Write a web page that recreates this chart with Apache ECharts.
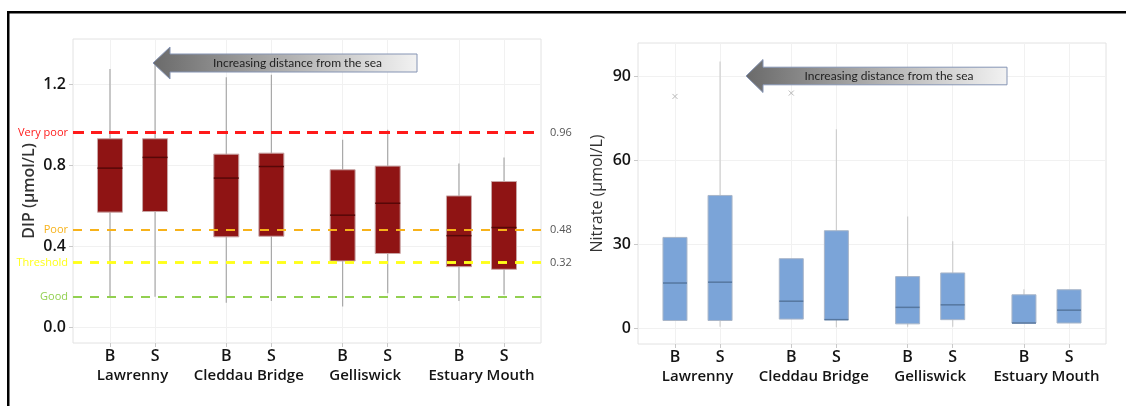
<!DOCTYPE html>
<html>
<head>
<meta charset="utf-8">
<script src="https://cdn.jsdelivr.net/npm/echarts@6/dist/echarts.min.js"></script>
<style>
  html, body { margin: 0; padding: 0; background: #ffffff; }
  #chart { width: 1126px; height: 406px; }
</style>
</head>
<body>
<div id="chart"></div>
<script>
// ---- data -------------------------------------------------------------
const sites = ['Lawrenny', 'Cleddau Bridge', 'Gelliswick', 'Estuary Mouth'];
const layers = ['B', 'S'];

// five-number summaries per site: [min, Q1, median, Q3, max]
const dipB = [
  [0.151, 0.568, 0.785, 0.930, 1.274],
  [0.121, 0.446, 0.736, 0.854, 1.233],
  [0.102, 0.327, 0.553, 0.777, 0.925],
  [0.130, 0.299, 0.452, 0.648, 0.808]
];
const dipS = [
  [0.151, 0.571, 0.838, 0.930, 1.300],
  [0.130, 0.449, 0.793, 0.859, 1.246],
  [0.168, 0.364, 0.612, 0.795, 0.974],
  [0.160, 0.286, 0.492, 0.719, 0.838]
];
const nitrateB = [
  [2.7, 2.7, 16.1, 32.4, 32.4],
  [3.2, 3.2, 9.6, 24.8, 24.8],
  [0.5, 1.5, 7.4, 18.4, 39.9],
  [1.8, 1.8, 1.8, 11.9, 13.9]
];
const nitrateS = [
  [0.5, 2.7, 16.4, 47.4, 95.3],
  [0.3, 3.0, 3.0, 34.8, 71.1],
  [0.5, 3.0, 8.3, 19.7, 31.0],
  [1.8, 1.8, 6.4, 13.7, 13.7]
];
// [site index, layer, value]
const nitrateOutliers = [[0, 'B', 82.8], [1, 'B', 84.0]];

// DIP status classes
const statusNames = ['Very poor', 'Poor', 'Threshold', 'Good'];
const statusValues = [0.96, 0.48, 0.32, 0.15];
const statusValueText = ['0.96', '0.48', '0.32', ''];

const dipTicks = [0, 0.4, 0.8, 1.2];
const nitrateTicks = [0, 30, 60, 90];
const arrowText = 'Increasing distance from the sea';

// ---- layout helpers ---------------------------------------------------
const GROUP_STEP = 2.58;          // x distance between sites
const X_MIN = -0.82, X_MAX = 9.56;
const pos = (g, s) => +(g * GROUP_STEP + s).toFixed(2);

const tickPos = [], tickText = {};
sites.forEach((_, g) => layers.forEach((l, s) => {
  const p = pos(g, s); tickPos.push(p); tickText[p.toFixed(2)] = l;
}));
const sitePos = sites.map((_, g) => pos(g, 0.5));
const siteText = {};
sitePos.forEach((p, g) => { siteText[p.toFixed(2)] = sites[g]; });

function boxRows(bArr, sArr) {
  const rows = [];
  sites.forEach((_, g) => {
    rows.push([pos(g, 0)].concat(bArr[g]));
    rows.push([pos(g, 1)].concat(sArr[g]));
  });
  return rows;
}

const FONT = '"Open Sans", "DejaVu Sans", sans-serif';
const TEXT = '#141414';

function boxRenderer(st) {
  return function (params, api) {
    const x = api.value(0);
    const pMin = api.coord([x, api.value(1)]);
    const pQ1 = api.coord([x, api.value(2)]);
    const pMed = api.coord([x, api.value(3)]);
    const pQ3 = api.coord([x, api.value(4)]);
    const pMax = api.coord([x, api.value(5)]);
    const w = st.width;
    return {
      type: 'group',
      children: [
        { type: 'line', shape: { x1: pMin[0], y1: pMin[1], x2: pMax[0], y2: pMax[1] },
          style: { stroke: st.whisker, lineWidth: 1.2 } },
        { type: 'rect', shape: { x: pQ3[0] - w / 2, y: pQ3[1], width: w, height: Math.max(pQ1[1] - pQ3[1], 1) },
          style: { fill: st.fill, stroke: st.edge, lineWidth: 1 } },
        { type: 'line', shape: { x1: pMed[0] - w / 2, y1: pMed[1], x2: pMed[0] + w / 2, y2: pMed[1] },
          style: { stroke: st.median, lineWidth: 1.5 } }
      ]
    };
  };
}

function outlierRenderer(params, api) {
  const p = api.coord([api.value(0), api.value(1)]);
  const r = 2.5;
  return {
    type: 'group',
    children: [
      { type: 'line', shape: { x1: p[0] - r, y1: p[1] - r, x2: p[0] + r, y2: p[1] + r }, style: { stroke: '#b8b8b8', lineWidth: 1 } },
      { type: 'line', shape: { x1: p[0] - r, y1: p[1] + r, x2: p[0] + r, y2: p[1] - r }, style: { stroke: '#b8b8b8', lineWidth: 1 } }
    ]
  };
}

function xAxesFor(gridIndex) {
  return [
    {
      type: 'value', gridIndex, min: X_MIN, max: X_MAX, position: 'bottom',
      axisLine: { show: false, onZero: false },
      axisTick: { show: true, customValues: tickPos, length: 4, lineStyle: { color: '#c8c8c8' } },
      splitLine: { show: true, lineStyle: { color: '#f1f1f1', width: 1 } },
      axisLabel: {
        customValues: tickPos, margin: 5, fontFamily: FONT, fontSize: 16, fontWeight: 600, color: TEXT,
        formatter: v => tickText[(+v).toFixed(2)] || ''
      }
    },
    {
      type: 'value', gridIndex, min: X_MIN, max: X_MAX, position: 'bottom',
      axisLine: { show: false, onZero: false }, axisTick: { show: false }, splitLine: { show: false },
      axisLabel: {
        customValues: sitePos, margin: 25, fontFamily: FONT, fontSize: 15, fontWeight: 600, color: TEXT,
        formatter: v => siteText[(+v).toFixed(2)] || ''
      }
    }
  ];
}

function yAxisFor(gridIndex, min, max, ticks, name, nameGap, weight, digits) {
  return {
    type: 'value', gridIndex, min, max, position: 'left',
    name, nameLocation: 'middle', nameGap,
    nameTextStyle: { fontFamily: FONT, fontSize: 16, color: '#333333', fontWeight: weight },
    axisLine: { show: false, onZero: false },
    axisTick: { show: true, customValues: ticks, length: 4, lineStyle: { color: '#c8c8c8' } },
    splitLine: { show: true, lineStyle: { color: '#f1f1f1', width: 1 } },
    axisLabel: {
      customValues: ticks, margin: 7, fontFamily: FONT, fontSize: 16, fontWeight: 600, color: TEXT,
      formatter: v => (+v).toFixed(digits)
    }
  };
}

// status lines: one entry carries the class name on the left, a twin entry the value on the right
const statusColors = ['#ff1a1a', '#f7b21a', '#ffff1a', '#92d050'];
const statusWidths = [3, 2, 2.5, 2];
const statusDash = [[11, 7], [9, 8], [9, 8], [9, 8]];
const markData = [];
statusNames.forEach((n, i) => {
  const lineStyle = { color: statusColors[i], width: statusWidths[i], type: statusDash[i] };
  markData.push({
    yAxis: statusValues[i], name: n, lineStyle,
    label: { show: true, position: 'start', distance: 5, formatter: n, color: statusColors[i],
             fontFamily: FONT, fontSize: 11 }
  });
  if (statusValueText[i]) {
    markData.push({
      yAxis: statusValues[i], name: statusValueText[i], lineStyle,
      label: { show: true, position: 'end', distance: 9, formatter: statusValueText[i], color: '#555555',
               fontFamily: FONT, fontSize: 11 }
    });
  }
});

function arrow(tipX, tipY, headX, headHalf, shaftHalf, endX, textSize) {
  return [
    {
      type: 'polygon', z: 100,
      shape: { points: [
        [tipX, tipY], [headX, tipY - headHalf], [headX, tipY - shaftHalf], [endX, tipY - shaftHalf],
        [endX, tipY + shaftHalf], [headX, tipY + shaftHalf], [headX, tipY + headHalf]
      ] },
      style: {
        fill: new echarts.graphic.LinearGradient(0, 0, 1, 0, [
          { offset: 0, color: '#6a6a6a' }, { offset: 0.45, color: '#a9a9a9' }, { offset: 1, color: '#f2f2f2' }
        ]),
        stroke: '#8594b4', lineWidth: 1
      }
    },
    {
      type: 'text', z: 101, x: (headX + endX) / 2 + 4, y: tipY,
      style: { text: arrowText, fill: '#1f1f1f', font: textSize + 'px Lato, "Open Sans", sans-serif',
               align: 'center', verticalAlign: 'middle' }
    }
  ];
}

const chart = echarts.init(document.getElementById('chart'), null, { renderer: 'canvas' });

chart.setOption({
  animation: false,
  backgroundColor: '#ffffff',
  grid: [
    { left: 73, top: 39, width: 468, height: 304, show: true, borderColor: '#e2e2e2', borderWidth: 1, backgroundColor: 'transparent' },
    { left: 638, top: 43, width: 468, height: 301, show: true, borderColor: '#e2e2e2', borderWidth: 1, backgroundColor: 'transparent' }
  ],
  xAxis: xAxesFor(0).concat(xAxesFor(1)),
  yAxis: [
    yAxisFor(0, -0.0775, 1.422, dipTicks, 'DIP (μmol/L)', 36, 600, 1),
    yAxisFor(1, -5.7, 101.9, nitrateTicks, 'Nitrate (μmol/L)', 33, 'normal', 0)
  ],
  series: [
    {
      type: 'custom', name: 'DIP', xAxisIndex: 0, yAxisIndex: 0,
      encode: { x: 0, y: [1, 2, 3, 4, 5] },
      data: boxRows(dipB, dipS),
      renderItem: boxRenderer({ width: 25, fill: '#8f1414', edge: '#c9a5a5', median: '#560808', whisker: '#a8a8a8' }),
      markLine: { silent: true, symbol: 'none', animation: false, data: markData }
    },
    {
      type: 'custom', name: 'Nitrate', xAxisIndex: 2, yAxisIndex: 1,
      encode: { x: 0, y: [1, 2, 3, 4, 5] },
      data: boxRows(nitrateB, nitrateS),
      renderItem: boxRenderer({ width: 24, fill: '#7ba4d8', edge: '#a9b6c9', median: '#56779f', whisker: '#cfcfcf' })
    },
    {
      type: 'custom', name: 'Nitrate outliers', xAxisIndex: 2, yAxisIndex: 1,
      encode: { x: 0, y: 1 },
      data: nitrateOutliers.map(o => [pos(o[0], layers.indexOf(o[1])), o[2]]),
      renderItem: outlierRenderer
    }
  ],
  graphic: [
    // outer frame (top and left rules)
    { type: 'rect', shape: { x: 7, y: 11, width: 1119, height: 2.5 }, style: { fill: '#000000' }, z: 200 },
    { type: 'rect', shape: { x: 7, y: 11, width: 2.5, height: 395 }, style: { fill: '#000000' }, z: 200 }
  ].concat(
    arrow(153, 63, 170, 16, 9, 417, 12),
    arrow(746, 76, 763, 16.5, 8.8, 1007, 12)
  )
});
</script>
</body>
</html>
